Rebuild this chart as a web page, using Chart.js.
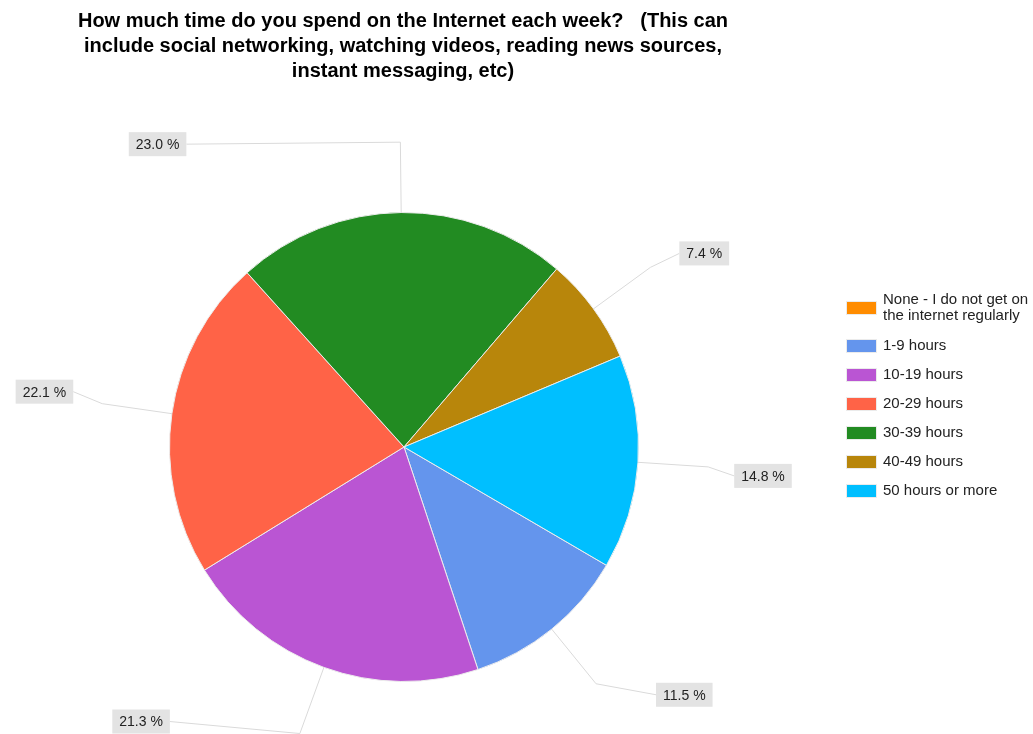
<!DOCTYPE html>
<html>
<head>
<meta charset="utf-8">
<script src="https://cdn.jsdelivr.net/npm/chart.js@4/dist/chart.umd.min.js"></script>
<style>
    html, body { margin: 0; padding: 0; background: #fff; }
    canvas { display: block; }
</style>
</head>
<body>
<canvas id="myChart" width="1033" height="734"></canvas>
<script>
const questionTitle = [
    'How much time do you spend on the Internet each week?   (This can',
    'include social networking, watching videos, reading news sources,',
    'instant messaging, etc)'
];
const categories = [
    'None - I do not get on the internet regularly',
    '1-9 hours',
    '10-19 hours',
    '20-29 hours',
    '30-39 hours',
    '40-49 hours',
    '50 hours or more'
];
const responses = [0, 14, 26, 27, 28, 9, 18];
const sliceColors = ['#ff8c00', '#6495ed', '#ba55d3', '#ff6347', '#228b22', '#b8860b', '#00bfff'];

const total = responses.reduce((a, b) => a + b, 0);
const percentLabels = responses.map(v => (v / total * 100).toFixed(1) + ' %');

const FONT = '"Liberation Sans", Arial, sans-serif';

// title, legend and callout labels
const extras = {
    id: 'extras',
    afterDraw(chart, args, opts) {
        const ctx = chart.ctx;
        ctx.save();

        // title
        ctx.fillStyle = '#000';
        ctx.font = 'bold 20px ' + FONT;
        ctx.textAlign = 'center';
        ctx.textBaseline = 'middle';
        questionTitle.forEach((line, i) => ctx.fillText(line, 403, 21 + i * 25));

        // callouts
        const meta = chart.getDatasetMeta(0);
        ctx.font = '14px ' + FONT;
        meta.data.forEach((arc, i) => {
            if (!responses[i]) return;
            const p = arc.getProps(['x', 'y', 'startAngle', 'endAngle', 'outerRadius']);
            const a = (p.startAngle + p.endAngle) / 2;
            const ex = p.x + p.outerRadius * Math.cos(a);
            const ey = p.y + p.outerRadius * Math.sin(a);
            const kx = p.x + p.outerRadius * 1.3 * Math.cos(a);
            const ky = p.y + p.outerRadius * 1.3 * Math.sin(a);
            const sh = opts.shift[i];
            const lx = kx + sh[0];
            const ly = ky + sh[1];

            ctx.strokeStyle = '#dadada';
            ctx.lineWidth = 1;
            ctx.beginPath();
            ctx.moveTo(ex, ey);
            ctx.lineTo(kx, ky);
            ctx.lineTo(lx, ly);
            ctx.stroke();

            const text = percentLabels[i];
            const w = ctx.measureText(text).width + 14;
            const h = 24;
            const bx = sh[0] > 0 ? lx : lx - w;
            ctx.fillStyle = '#e3e3e3';
            ctx.fillRect(bx, ly - h / 2, w, h);
            ctx.fillStyle = '#222';
            ctx.textAlign = 'center';
            ctx.fillText(text, bx + w / 2, ly + 1);
        });

        // legend
        ctx.font = '15px ' + FONT;
        ctx.textAlign = 'left';
        let y = 308;
        categories.forEach((name, i) => {
            const lines = wrap(ctx, name, 148);
            ctx.fillStyle = sliceColors[i];
            ctx.fillRect(847, y - 6, 29, 12);
            ctx.strokeStyle = 'rgba(0,0,0,0.08)';
            ctx.strokeRect(846.5, y - 6.5, 30, 13);
            ctx.fillStyle = '#222';
            const top = y - (lines.length - 1) * 8;
            lines.forEach((ln, j) => ctx.fillText(ln, 883, top + j * 16));
            y += lines.length > 1 ? 38 : 29;
        });
        ctx.restore();
    }
};

function wrap(ctx, text, maxW) {
    const words = text.split(' ');
    const out = [];
    let cur = '';
    words.forEach(w => {
        const t = cur ? cur + ' ' + w : w;
        if (ctx.measureText(t).width > maxW && cur) {
            out.push(cur);
            cur = w;
        } else {
            cur = t;
        }
    });
    out.push(cur);
    return out;
}

const ctx = document.getElementById('myChart').getContext('2d');
const myChart = new Chart(ctx, {
    type: 'pie',
    data: {
        labels: categories,
        datasets: [{
            data: responses,
            backgroundColor: sliceColors,
            borderColor: '#ececec',
            borderWidth: 1
        }]
    },
    options: {
        responsive: false,
        animation: false,
        rotation: 120.3,
        layout: {
            padding: { left: 169, right: 394, top: 212, bottom: 52 }
        },
        plugins: {
            legend: { display: false },
            tooltip: { enabled: false },
            extras: {
                shift: [[0, 0], [60, 11], [-130, -12], [-29, -12], [-214, 2], [29, -14], [26, 9]]
            }
        }
    },
    plugins: [extras]
});
</script>
</body>
</html>
